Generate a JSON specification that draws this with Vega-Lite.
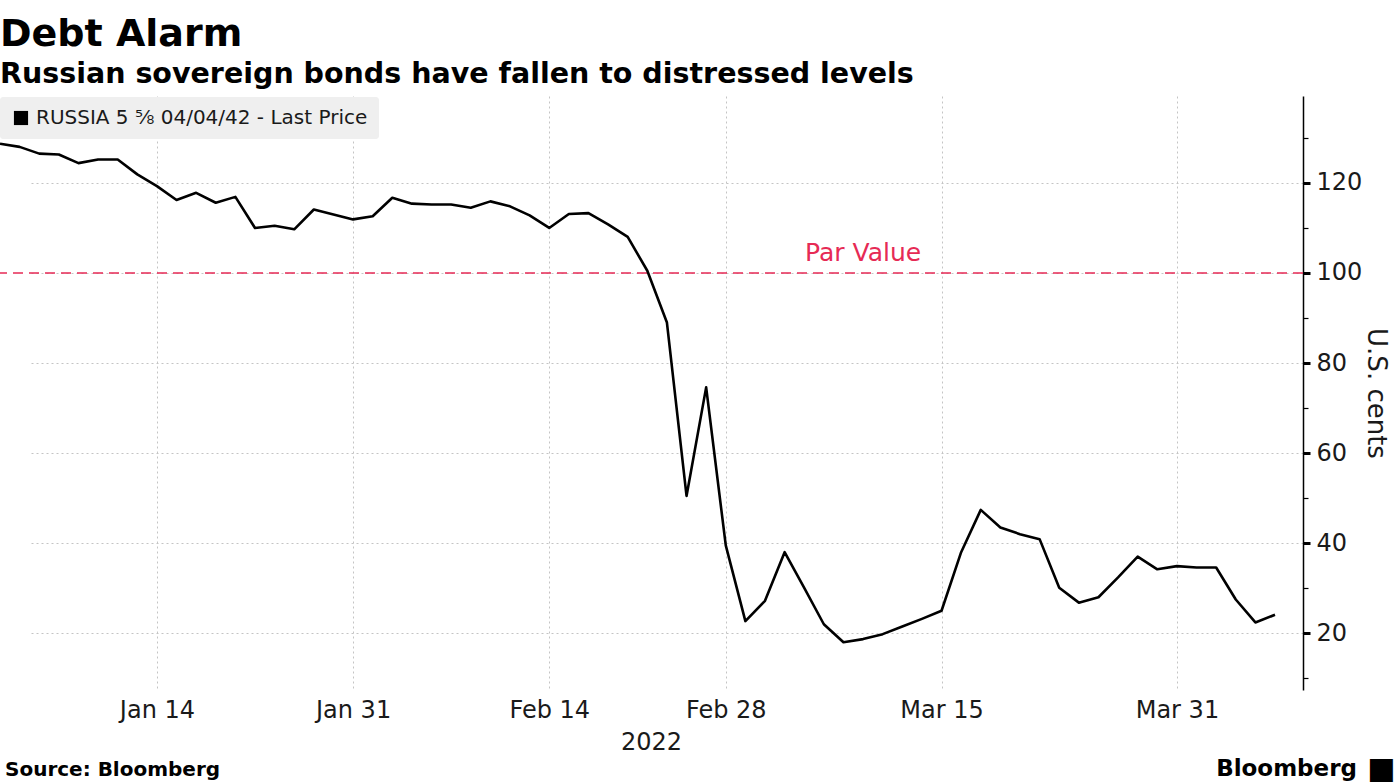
{
  "$schema": "https://vega.github.io/schema/vega-lite/v6.json",
  "width": 1303,
  "height": 594,
  "autosize": {"type": "none"},
  "padding": {"left": 0, "top": 96, "right": 92, "bottom": 94},
  "background": "white",
  "config": {
    "view": {"stroke": null},
    "font": "DejaVu Sans"
  },
  "title": {
    "text": "Debt Alarm",
    "subtitle": "Russian sovereign bonds have fallen to distressed levels",
    "anchor": "start",
    "frame": "group",
    "font": "DejaVu Sans",
    "fontSize": 38,
    "fontWeight": "bold",
    "color": "#000000",
    "subtitleFont": "DejaVu Sans",
    "subtitleFontSize": 28.5,
    "subtitleFontWeight": "bold",
    "subtitleColor": "#000000",
    "subtitlePadding": 6,
    "offset": 8
  },
  "layer": [
    {
      "data": {"values": [{"level": 100}]},
      "mark": {"type": "rule", "color": "#e62a55", "strokeDash": [10, 6], "strokeWidth": 1.4},
      "encoding": {
        "y": {"field": "level", "type": "quantitative", "scale": {"domain": [7.4, 139.3], "nice": false, "zero": false}}
      }
    },
    {
      "data": {
        "values": [
          {"date": "Jan 4", "price": 128.7},
          {"date": "Jan 5", "price": 128.0},
          {"date": "Jan 6", "price": 126.5},
          {"date": "Jan 7", "price": 126.3},
          {"date": "Jan 10", "price": 124.4},
          {"date": "Jan 11", "price": 125.2},
          {"date": "Jan 12", "price": 125.2},
          {"date": "Jan 13", "price": 121.9},
          {"date": "Jan 14", "price": 119.3},
          {"date": "Jan 18", "price": 116.2},
          {"date": "Jan 19", "price": 117.8},
          {"date": "Jan 20", "price": 115.6},
          {"date": "Jan 21", "price": 116.9},
          {"date": "Jan 24", "price": 110.0},
          {"date": "Jan 25", "price": 110.5},
          {"date": "Jan 26", "price": 109.7},
          {"date": "Jan 27", "price": 114.1},
          {"date": "Jan 28", "price": 113.0},
          {"date": "Jan 31", "price": 111.9},
          {"date": "Feb 1", "price": 112.6},
          {"date": "Feb 2", "price": 116.7},
          {"date": "Feb 3", "price": 115.4},
          {"date": "Feb 4", "price": 115.2},
          {"date": "Feb 7", "price": 115.2},
          {"date": "Feb 8", "price": 114.5},
          {"date": "Feb 9", "price": 115.9},
          {"date": "Feb 10", "price": 114.8},
          {"date": "Feb 11", "price": 112.8},
          {"date": "Feb 14", "price": 110.0},
          {"date": "Feb 15", "price": 113.1},
          {"date": "Feb 16", "price": 113.3},
          {"date": "Feb 17", "price": 110.8},
          {"date": "Feb 18", "price": 108.0},
          {"date": "Feb 22", "price": 100.5},
          {"date": "Feb 23", "price": 89.0},
          {"date": "Feb 24", "price": 50.5},
          {"date": "Feb 25", "price": 74.6},
          {"date": "Feb 28", "price": 39.5},
          {"date": "Mar 1", "price": 22.7},
          {"date": "Mar 2", "price": 27.2},
          {"date": "Mar 3", "price": 38.0},
          {"date": "Mar 4", "price": 30.1},
          {"date": "Mar 7", "price": 22.0},
          {"date": "Mar 8", "price": 18.0},
          {"date": "Mar 9", "price": 18.7},
          {"date": "Mar 10", "price": 19.8},
          {"date": "Mar 11", "price": 21.5},
          {"date": "Mar 14", "price": 23.2},
          {"date": "Mar 15", "price": 25.0},
          {"date": "Mar 16", "price": 38.0},
          {"date": "Mar 17", "price": 47.4},
          {"date": "Mar 18", "price": 43.5},
          {"date": "Mar 21", "price": 42.0},
          {"date": "Mar 22", "price": 40.9},
          {"date": "Mar 23", "price": 30.1},
          {"date": "Mar 24", "price": 26.8},
          {"date": "Mar 25", "price": 28.0},
          {"date": "Mar 28", "price": 32.4},
          {"date": "Mar 29", "price": 37.0},
          {"date": "Mar 30", "price": 34.2},
          {"date": "Mar 31", "price": 34.9},
          {"date": "Apr 1", "price": 34.6},
          {"date": "Apr 4", "price": 34.6},
          {"date": "Apr 5", "price": 27.5},
          {"date": "Apr 6", "price": 22.4},
          {"date": "Apr 7", "price": 24.1}
        ]
      },
      "mark": {"type": "line", "strokeWidth": 2.6, "strokeJoin": "round"},
      "encoding": {
        "x": {
          "field": "date",
          "type": "ordinal",
          "sort": null,
          "scale": {
            "type": "point",
            "range": [0, 1275],
            "padding": 0,
            "domain": ["Jan 4", "Jan 5", "Jan 6", "Jan 7", "Jan 10", "Jan 11", "Jan 12", "Jan 13", "Jan 14", "Jan 18", "Jan 19", "Jan 20", "Jan 21", "Jan 24", "Jan 25", "Jan 26", "Jan 27", "Jan 28", "Jan 31", "Feb 1", "Feb 2", "Feb 3", "Feb 4", "Feb 7", "Feb 8", "Feb 9", "Feb 10", "Feb 11", "Feb 14", "Feb 15", "Feb 16", "Feb 17", "Feb 18", "Feb 22", "Feb 23", "Feb 24", "Feb 25", "Feb 28", "Mar 1", "Mar 2", "Mar 3", "Mar 4", "Mar 7", "Mar 8", "Mar 9", "Mar 10", "Mar 11", "Mar 14", "Mar 15", "Mar 16", "Mar 17", "Mar 18", "Mar 21", "Mar 22", "Mar 23", "Mar 24", "Mar 25", "Mar 28", "Mar 29", "Mar 30", "Mar 31", "Apr 1", "Apr 4", "Apr 5", "Apr 6", "Apr 7"]
          },
          "axis": {
            "values": ["Jan 14", "Jan 31", "Feb 14", "Feb 28", "Mar 15", "Mar 31"],
            "title": "2022",
            "titleFont": "DejaVu Sans",
            "titleFontSize": 24,
            "titleFontWeight": "normal",
            "titleColor": "#1a1a1a",
            "titlePadding": 8,
            "titleX": 651,
            "labelAngle": 0,
            "labelFont": "DejaVu Sans",
            "labelFontSize": 24,
            "labelColor": "#1a1a1a",
            "labelPadding": 8,
            "domain": false,
            "ticks": false,
            "grid": true,
            "gridColor": "#c4c4c4",
            "gridDash": [2, 3],
            "gridWidth": 1
          }
        },
        "y": {
          "field": "price",
          "type": "quantitative",
          "scale": {"domain": [7.4, 139.3], "nice": false, "zero": false},
          "axis": {
            "orient": "right",
            "values": [10, 20, 30, 40, 50, 60, 70, 80, 90, 100, 110, 120, 130],
            "labelExpr": "datum.value % 20 === 0 ? datum.label : ''",
            "title": "U.S. cents",
            "titleFont": "DejaVu Sans",
            "titleFontSize": 26,
            "titleFontWeight": "normal",
            "titleColor": "#1a1a1a",
            "titleAngle": 90,
            "titleX": 72,
            "titleY": 297,
            "titleAlign": "center",
            "titleBaseline": "middle",
            "labelFont": "DejaVu Sans",
            "labelFontSize": 24,
            "labelColor": "#1a1a1a",
            "labelPadding": 6,
            "domain": true,
            "domainColor": "#000000",
            "domainWidth": 1.5,
            "tickColor": "#000000",
            "tickSize": {"condition": {"test": "datum.value % 20 === 0", "value": 7}, "value": 5},
            "tickWidth": {"condition": {"test": "datum.value % 20 === 0", "value": 3}, "value": 1.2},
            "grid": true,
            "gridColor": "#c4c4c4",
            "gridDash": [2, 3],
            "gridWidth": 1,
            "gridOpacity": {"condition": {"test": "datum.value % 20 === 0", "value": 1}, "value": 0}
          }
        },
        "color": {
          "datum": "RUSSIA 5 \u215d 04/04/42 - Last Price",
          "scale": {"range": ["#000000"]},
          "legend": {
            "orient": "none",
            "legendX": 0,
            "legendY": 1,
            "title": null,
            "fillColor": "#efefef",
            "padding": 11,
            "cornerRadius": 3,
            "symbolType": "square",
            "symbolSize": 200,
            "symbolFillColor": "#000000",
            "symbolStrokeColor": "#000000",
            "symbolStrokeWidth": 0,
            "labelFont": "DejaVu Sans",
            "labelFontSize": 20,
            "labelColor": "#1a1a1a",
            "labelLimit": 0,
            "labelOffset": 5,
            "encode": {"symbols": {"update": {"fill": {"value": "#000000"}, "stroke": {"value": "#000000"}}}}
          }
        }
      }
    },
    {
      "data": {"values": [{"date": "Mar 9", "level": 100, "label": "Par Value"}]},
      "mark": {"type": "text", "color": "#e62a55", "font": "DejaVu Sans", "fontSize": 25, "baseline": "bottom", "align": "center", "dy": -7},
      "encoding": {
        "text": {"field": "label"},
        "x": {"field": "date", "type": "ordinal"},
        "y": {"field": "level", "type": "quantitative"}
      }
    },
    {
      "data": {"values": [{"date": "Jan 4", "level": -11.7, "label": "Source: Bloomberg"}]},
      "mark": {"type": "text", "color": "#000000", "font": "DejaVu Sans", "fontWeight": "bold", "fontSize": 20, "baseline": "alphabetic", "align": "left", "dx": 5},
      "encoding": {
        "text": {"field": "label"},
        "x": {"field": "date", "type": "ordinal"},
        "y": {"field": "level", "type": "quantitative"}
      }
    },
    {
      "data": {"values": [{"date": "Apr 7", "level": -11.7, "label": "Bloomberg"}]},
      "mark": {"type": "text", "color": "#000000", "font": "DejaVu Sans", "fontWeight": "bold", "fontSize": 23, "baseline": "alphabetic", "align": "right", "dx": 82},
      "encoding": {
        "text": {"field": "label"},
        "x": {"field": "date", "type": "ordinal"},
        "y": {"field": "level", "type": "quantitative"}
      }
    },
    {
      "data": {"values": [{"date": "Apr 7", "level": -11.7, "label": "\u25a0"}]},
      "mark": {"type": "text", "color": "#000000", "font": "DejaVu Sans", "fontSize": 30, "baseline": "alphabetic", "align": "left", "dx": 92, "dy": 2},
      "encoding": {
        "text": {"field": "label"},
        "x": {"field": "date", "type": "ordinal"},
        "y": {"field": "level", "type": "quantitative"}
      }
    }
  ]
}
